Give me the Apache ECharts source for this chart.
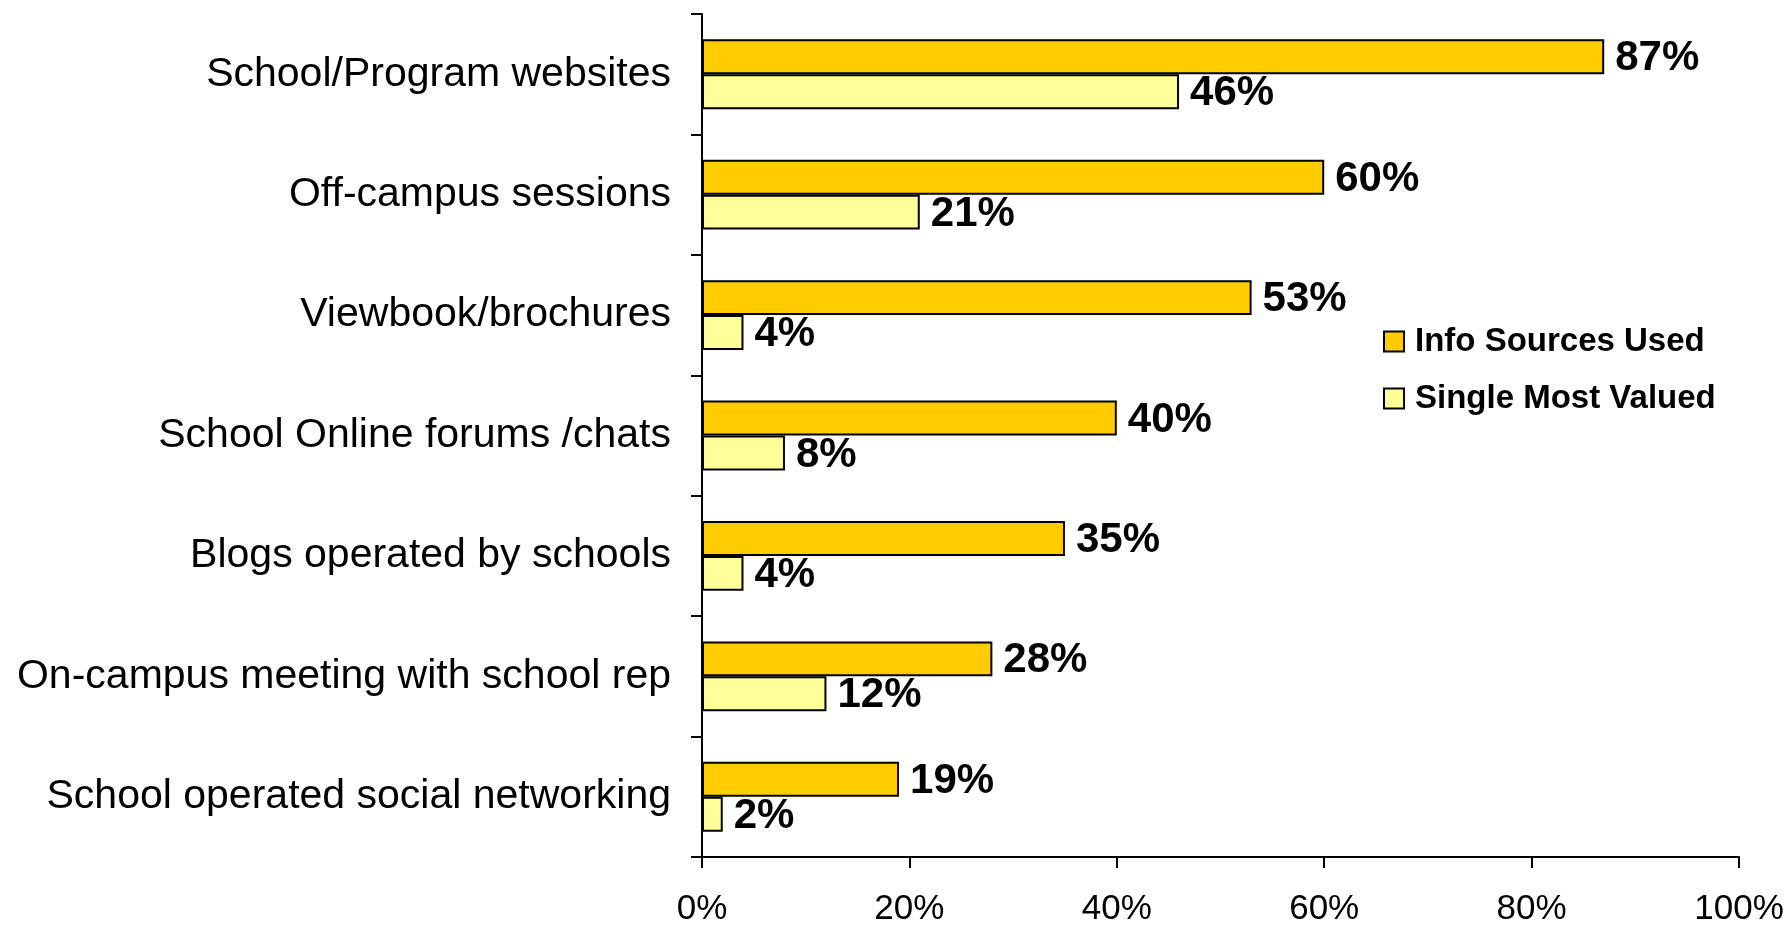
<!DOCTYPE html>
<html>
<head>
<meta charset="utf-8">
<style>
  html, body { margin: 0; padding: 0; background: #ffffff; }
  #chart { width: 1789px; height: 925px; }
</style>
<script src="https://cdn.jsdelivr.net/npm/echarts@6/dist/echarts.min.js"></script>
</head>
<body>
<div id="chart"></div>
<script>
// Information sources, top to bottom
const categories = [
  'School/Program websites',
  'Off-campus sessions',
  'Viewbook/brochures',
  'School Online forums /chats',
  'Blogs operated by schools',
  'On-campus meeting with school rep',
  'School operated social networking'
];
// Percent of respondents who used each source
const infoSourcesUsed = [87, 60, 53, 40, 35, 28, 19];
// Percent naming each source as the single most valued one
const singleMostValued = [46, 21, 4, 8, 4, 12, 2];
// Value axis ticks (percent)
const xTicks = [0, 20, 40, 60, 80, 100];

const FONT = "'Liberation Sans', Arial, sans-serif";

const chart = echarts.init(document.getElementById('chart'), null, { renderer: 'canvas' });

const valueLabel = {
  show: true,
  position: 'right',
  distance: 11,
  offset: [0, 2],
  formatter: '{c}%',
  color: '#000',
  fontFamily: FONT,
  fontWeight: 'bold',
  fontSize: 42
};

chart.setOption({
  animation: false,
  backgroundColor: '#ffffff',
  grid: {
    left: 702, right: 50, top: 14, bottom: 68,
    containLabel: false,
    outerBoundsMode: 'none'
  },
  legend: {
    orient: 'vertical',
    left: 1378,
    top: 320,
    itemWidth: 20,
    itemHeight: 20,
    itemGap: 24,
    icon: 'rect',
    itemStyle: { borderColor: '#000', borderWidth: 2 },
    textStyle: {
      fontFamily: FONT,
      fontWeight: 'bold',
      fontSize: 33,
      color: '#000',
      lineHeight: 33,
      padding: [0, 0, 0, 6]
    },
    data: ['Info Sources Used', 'Single Most Valued']
  },
  xAxis: {
    type: 'value',
    min: xTicks[0],
    max: xTicks[xTicks.length - 1],
    interval: xTicks[1] - xTicks[0],
    axisLine: { show: true, lineStyle: { color: '#000', width: 2 } },
    axisTick: { show: true, length: 11, lineStyle: { color: '#000', width: 2 } },
    splitLine: { show: false },
    axisLabel: {
      formatter: '{value}%',
      color: '#000',
      fontFamily: FONT,
      fontSize: 35,
      margin: 35
    }
  },
  yAxis: {
    type: 'category',
    inverse: true,
    data: categories,
    axisLine: { show: true, lineStyle: { color: '#000', width: 2 } },
    axisTick: { show: true, length: 11, alignWithLabel: false, lineStyle: { color: '#000', width: 2 } },
    axisLabel: {
      color: '#000',
      fontFamily: FONT,
      fontSize: 41,
      margin: 31
    }
  },
  series: [
    {
      name: 'Info Sources Used',
      type: 'bar',
      data: infoSourcesUsed,
      barGap: '0%',
      barCategoryGap: '42%',
      itemStyle: { color: '#FFCC00', borderColor: '#000', borderWidth: 2 },
      label: valueLabel
    },
    {
      name: 'Single Most Valued',
      type: 'bar',
      data: singleMostValued,
      barGap: '0%',
      barCategoryGap: '42%',
      itemStyle: { color: '#FFFF99', borderColor: '#000', borderWidth: 2 },
      label: valueLabel
    }
  ]
});
</script>
</body>
</html>
